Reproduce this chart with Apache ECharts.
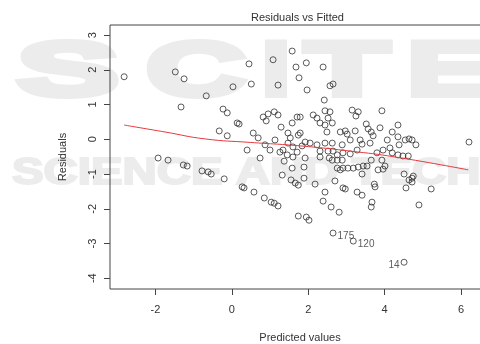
<!DOCTYPE html>
<html>
<head>
<meta charset="utf-8">
<script src="https://cdn.jsdelivr.net/npm/echarts@6/dist/echarts.min.js"></script>
<style>
  html, body { margin: 0; padding: 0; background: #fff; }
  #chart { width: 480px; height: 344px; }
</style>
</head>
<body>
<div id="chart"></div>
<script>
// fitted values (x) and residuals (y)
const fitted = [
  -2.82, -1.48, -1.25, -1.33, -0.67, 0.03, -0.23, -0.12, 0.14, 0.19,
  -0.33, -0.12, -1.93, -1.67, -1.27, -1.17, -0.78, -0.62, -0.54, -0.20,
  0.27, 0.32, 0.58, 0.85, 1.03, 1.11, 1.21, 0.40, 0.56, 0.69,
  0.74, 0.45, 1.08, 1.58, 1.68, 1.76, 0.51, 1.21, 1.95, 2.39,
  1.97, 2.57, 2.65, 2.42, 0.82, 0.90, 0.95, 1.11, 1.21,
  1.29, 1.58, 1.71, 1.13, 0.87, 1.47, 1.53, 1.47, 1.60, 1.71,
  1.60, 1.74, 3.15, 3.31, 3.25, 3.93, 2.13, 2.23, 2.44, 2.57,
  2.52, 2.63, 2.31, 2.44, 2.49, 1.79, 1.79, 2.84, 2.97, 3.02,
  3.23, 3.57, 3.65, 3.70, 3.10, 3.36, 3.41, 3.28, 2.89, 2.91,
  2.63, 2.44, 2.23, 2.05, 1.92, 1.84, 2.31, 2.52, 2.65, 2.76,
  3.10, 4.20, 4.07, 3.96, 3.80, 4.20, 4.14, 3.62, 1.37, 1.58,
  1.32, 1.55, 1.66, 1.74, 1.74, 1.89, 1.89, 2.18, 2.44, 2.39,
  2.60, 2.81, 1.95, 2.02, 2.70, 2.91, 2.97, 3.28,
  3.41, 3.73, 3.75, 3.67, 3.65, 3.41, 2.76, 2.84, 2.91, 3.04,
  3.18, 3.31, 3.44, 3.54, 3.83, 3.96, 4.01, 3.93, 3.65, 2.63,
  2.76, 2.89, 2.55, 2.31, 1.92, 4.51, 4.64, 4.72, 4.75, 4.72,
  4.56, 5.22, 4.90, 6.21, 4.35, 4.35, 4.38, 4.54, 4.64,
  4.72, 4.82, 4.35, 4.48, 4.62, 3.52, 3.88, 1.34, 1.26, 1.00, 1.45
];
const residuals = [
  1.80, 1.94, 1.74, 0.93, 1.25, 1.51, 0.87, 0.76, 0.47, 0.44,
  0.24, 0.10, -0.54, -0.60, -0.74, -0.77, -0.91, -0.94, -1.00, -1.14,
  -1.37, -1.40, -1.52, -1.69, -1.81, -1.84, -1.92, -0.31, 0.18, 0.04,
  -0.54, 2.17, 2.29, 2.54, 2.08, 1.77, 1.59, 1.56, 2.20, 2.08,
  1.42, 1.54, 1.59, 1.13, 0.64, 0.53, 0.73, 0.79, 0.70,
  0.35, 0.47, 0.64, -0.02, -0.16, 0.18, 0.04, -0.11, -0.22, -0.37,
  -0.51, 0.12, 0.84, 0.79, 0.67, 0.82, 0.70, 0.61, 0.82, 0.79,
  0.61, 0.47, 0.47, 0.41, 0.21, 0.64, 0.18, 0.21, 0.24, 0.15,
  0.24, 0.30, 0.21, 0.10, -0.02, -0.02, -0.14, -0.31, -0.16, -0.39,
  -0.11, -0.11, -0.16, -0.11, -0.08, -0.19, -0.34, -0.34, -0.34, -0.45,
  -0.42, 0.21, -0.02, -0.31, -0.39, -0.39, -0.25, -0.11, -0.63, -0.83,
  -1.03, -1.17, -1.26, -1.32, -2.21, -0.80, -1.12, -1.29, -1.52, -1.78,
  -1.95, -2.10, -2.24, -2.33, -1.20, -1.40, -1.43, -1.52,
  -1.61, -1.29, -1.37, -1.81, -1.95, -1.00, -0.83, -0.88, -0.83, -0.83,
  -0.83, -0.80, -0.77, -0.77, -0.88, -0.86, -0.77, -0.60, -0.60, -0.60,
  -0.60, -0.60, -0.54, -0.51, -0.54, -1.00, -1.17, -1.12, -1.06, -1.23,
  -1.40, -1.43, -1.89, -0.08, 0.41, 0.07, -0.16, -0.02, 0.01,
  -0.02, -0.16, -0.45, -0.48, -0.48, 0.44, 0.33, -0.31, -0.37, -0.31, -0.45
];

// labelled observations
const outlierNames = ['175', '120', '14'];
const outlierFitted = [2.65, 3.18, 4.51];
const outlierResid = [-2.70, -2.93, -3.54];
const outlierPos = ['right', 'right', 'left'];

// red smoother
const lowessX = [-2.82, -1.75, -0.70, 0.48, 1.79, 3.10, 4.28, 6.19];
const lowessY = [0.41, 0.21, 0.01, -0.09, -0.19, -0.34, -0.51, -0.88];

const xTicks = [-2, 0, 2, 4, 6];
const yTicks = [-4, -3, -2, -1, 0, 1, 2, 3];

const FONT = '"Liberation Sans", Arial, sans-serif';
const WM = '#ececec';

const chart = echarts.init(document.getElementById('chart'));

// faint publisher watermark behind the plot
const wmLetter = (ch, x, sx) => ({
  type: 'text', z: -10, x: x, y: 74, scaleX: sx, silent: true,
  style: {
    text: ch, font: 'bold 76px ' + FONT, fill: WM, stroke: WM, lineWidth: 6,
    align: 'center', verticalAlign: 'middle'
  }
});

const option = {
  animation: false,
  title: {
    text: 'Residuals vs Fitted',
    left: 246, top: 7,
    textStyle: { fontFamily: FONT, fontSize: 11, fontWeight: 'normal', color: '#333' }
  },
  graphic: [
    wmLetter('S', 68, 2.0),
    wmLetter('C', 196, 1.8),
    wmLetter('I', 276, 1.3),
    wmLetter('T', 347, 1.8),
    wmLetter('E', 448, 1.6),
    {
      type: 'text', z: -10, x: 12, y: 174, scaleX: 1.28, silent: true,
      style: {
        text: 'SCIENCE AND TECHNOLOGY', font: 'bold 37px ' + FONT, fill: WM, stroke: WM, lineWidth: 2,
        align: 'left', verticalAlign: 'middle'
      }
    }
  ],
  grid: {
    left: 110, top: 25, width: 380, height: 264,
    outerBoundsMode: 'none',
    show: true, borderColor: '#444', borderWidth: 1, backgroundColor: 'transparent'
  },
  xAxis: {
    type: 'value', min: -3.19, max: 6.76,
    axisLine: { show: false, onZero: false },
    splitLine: { show: false },
    axisTick: { customValues: xTicks, length: 6, lineStyle: { color: '#444' } },
    axisLabel: { customValues: xTicks, margin: 15, color: '#333', fontSize: 11, fontFamily: FONT },
    name: 'Predicted values', nameLocation: 'middle', nameGap: 43,
    nameTextStyle: { color: '#333', fontSize: 11, fontFamily: FONT }
  },
  yAxis: {
    type: 'value', min: -4.31, max: 3.29,
    axisLine: { show: false, onZero: false },
    splitLine: { show: false },
    axisTick: { customValues: yTicks, length: 6, lineStyle: { color: '#444' } },
    axisLabel: { customValues: yTicks, rotate: 90, margin: 12, color: '#333', fontSize: 11, fontFamily: FONT },
    name: 'Residuals', nameLocation: 'middle', nameGap: 42,
    nameTextStyle: { color: '#333', fontSize: 11, fontFamily: FONT }
  },
  series: [
    {
      type: 'scatter', silent: true,
      symbol: 'circle', symbolSize: 6,
      itemStyle: { color: 'rgba(0,0,0,0)', borderColor: '#333', borderWidth: 1 },
      data: fitted.map((f, i) => [f, residuals[i]])
    },
    {
      type: 'scatter', silent: true,
      symbol: 'circle', symbolSize: 6,
      itemStyle: { color: 'rgba(0,0,0,0)', borderColor: '#333', borderWidth: 1 },
      data: outlierNames.map((n, i) => ({
        name: n,
        value: [outlierFitted[i], outlierResid[i]],
        label: {
          show: true, formatter: n, position: outlierPos[i], distance: 1, offset: [0, 3],
          color: '#333', fontSize: 10, fontFamily: FONT
        }
      }))
    },
    {
      type: 'line', silent: true, smooth: true, symbol: 'none',
      lineStyle: { color: '#e8383d', width: 1 },
      data: lowessX.map((x, i) => [x, lowessY[i]])
    }
  ]
};

chart.setOption(option);
</script>
</body>
</html>
